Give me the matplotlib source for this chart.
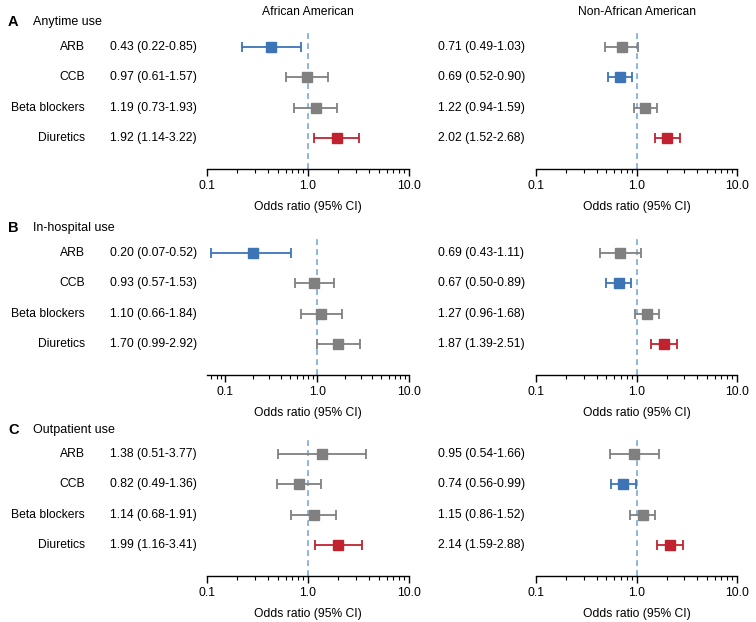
import numpy as np
import matplotlib
matplotlib.use('Agg')
import matplotlib.pyplot as plt
from matplotlib.transforms import blended_transform_factory

plt.rcParams['font.family'] = ['Liberation Sans', 'DejaVu Sans']

# Data
drugs = ['ARB', 'CCB', 'Beta blockers', 'Diuretics']
panel_letters = ['A', 'B', 'C']
panel_titles = ['Anytime use', 'In-hospital use', 'Outpatient use']
groups = ['African American', 'Non-African American']

# Anytime use
any_aa_or = [0.43, 0.97, 1.19, 1.92]
any_aa_lo = [0.22, 0.61, 0.73, 1.14]
any_aa_hi = [0.85, 1.57, 1.93, 3.22]
any_naa_or = [0.71, 0.69, 1.22, 2.02]
any_naa_lo = [0.49, 0.52, 0.94, 1.52]
any_naa_hi = [1.03, 0.90, 1.59, 2.68]

# In-hospital use
hosp_aa_or = [0.20, 0.93, 1.10, 1.70]
hosp_aa_lo = [0.07, 0.57, 0.66, 0.99]
hosp_aa_hi = [0.52, 1.53, 1.84, 2.92]
hosp_naa_or = [0.69, 0.67, 1.27, 1.87]
hosp_naa_lo = [0.43, 0.50, 0.96, 1.39]
hosp_naa_hi = [1.11, 0.89, 1.68, 2.51]

# Outpatient use
out_aa_or = [1.38, 0.82, 1.14, 1.99]
out_aa_lo = [0.51, 0.49, 0.68, 1.16]
out_aa_hi = [3.77, 1.36, 1.91, 3.41]
out_naa_or = [0.95, 0.74, 1.15, 2.14]
out_naa_lo = [0.54, 0.56, 0.86, 1.59]
out_naa_hi = [1.66, 0.99, 1.52, 2.88]

panels = [
    [(any_aa_or, any_aa_lo, any_aa_hi), (any_naa_or, any_naa_lo, any_naa_hi)],
    [(hosp_aa_or, hosp_aa_lo, hosp_aa_hi), (hosp_naa_or, hosp_naa_lo, hosp_naa_hi)],
    [(out_aa_or, out_aa_lo, out_aa_hi), (out_naa_or, out_naa_lo, out_naa_hi)],
]

BLUE = '#3d74b6'
RED = '#c0232f'
GREY = '#808080'
DASH = '#7ba8da'
FS = 8.7

W, H = 756, 622
fig = plt.figure(figsize=(W / 100, H / 100), dpi=100)

# layout in pixels
col_x = [(207, 409), (536, 737)]
value_x = [110, 438]
label_x = 85
row0_y = [47, 253, 454]
header_y = [22, 228, 430]
sp = 30.3
y_bottom = 4.03
y_top = -0.5


def px_axes(x0, x1, ytop, ybot):
    return fig.add_axes([x0 / W, 1 - ybot / H, (x1 - x0) / W, (ybot - ytop) / H])


for p in range(3):
    fig.text(8 / W, 1 - header_y[p] / H, panel_letters[p], fontsize=10.5,
             fontweight='bold', va='center', ha='left')
    fig.text(33 / W, 1 - header_y[p] / H, panel_titles[p], fontsize=FS + 0.3,
             va='center', ha='left')
    ytop = row0_y[p] + y_top * sp
    ybot = row0_y[p] + y_bottom * sp
    for c in range(2):
        odds, lo, hi = [np.array(v) for v in panels[p][c]]
        ax = px_axes(col_x[c][0], col_x[c][1], ytop, ybot)
        ax.set_xscale('log')
        if p == 1 and c == 0:
            ax.set_xlim(0.063, 10)
        else:
            ax.set_xlim(0.1, 10)
        ax.set_ylim(y_bottom, y_top)
        ax.axvline(1, color=DASH, ls=(0, (3.5, 2.5)), lw=1.2, zorder=0)
        ys = np.arange(len(drugs))
        for i in range(len(drugs)):
            if hi[i] < 1:
                col = BLUE
            elif lo[i] > 1:
                col = RED
            else:
                col = GREY
            ax.errorbar(odds[i], ys[i], xerr=[[odds[i] - lo[i]], [hi[i] - odds[i]]],
                        fmt='s', color=col, ms=7.6, capsize=3.5, elinewidth=1.3,
                        capthick=1.3, zorder=3)
        for s in ['top', 'right', 'left']:
            ax.spines[s].set_visible(False)
        ax.spines['bottom'].set_linewidth(1.0)
        ax.set_yticks([])
        ax.set_xticks([0.1, 1, 10])
        ax.set_xticklabels(['0.1', '1.0', '10.0'], fontsize=FS)
        ax.tick_params(axis='x', which='major', length=5, width=1.0, pad=3)
        ax.tick_params(axis='x', which='minor', length=3, width=0.8)
        ax.set_xlabel('Odds ratio (95% CI)', fontsize=FS, labelpad=6)
        ax.patch.set_alpha(0)

        tr = blended_transform_factory(fig.transFigure, ax.transData)
        for i in range(len(drugs)):
            if c == 0:
                fig.text(label_x / W, ys[i], drugs[i], transform=tr, ha='right',
                         va='center', fontsize=FS)
            fig.text(value_x[c] / W, ys[i], f'{odds[i]:.2f} ({lo[i]:.2f}-{hi[i]:.2f})',
                     transform=tr, ha='left', va='center', fontsize=FS)

        if p == 0:
            xmid = (col_x[c][0] + col_x[c][1]) / 2
            fig.text(xmid / W, 1 - 12 / H, groups[c], ha='center', va='center',
                     fontsize=FS)

fig.savefig('out.png', dpi=100)
